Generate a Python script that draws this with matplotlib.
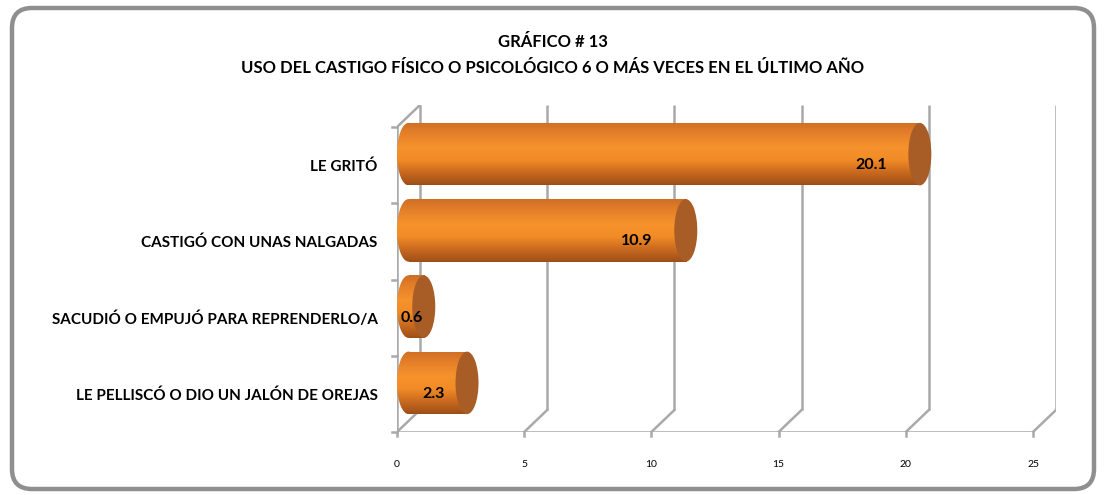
import numpy as np
import matplotlib.pyplot as plt
from matplotlib.patches import Ellipse, Rectangle, FancyBboxPatch
from matplotlib.colors import LinearSegmentedColormap

plt.rcParams['font.family'] = ['Lato', 'DejaVu Sans']

title_top = "GRÁFICO # 13"
title_sub = "USO DEL CASTIGO FÍSICO O PSICOLÓGICO 6 O MÁS VECES EN EL ÚLTIMO AÑO"
categories = ["LE GRITÓ", "CASTIGÓ CON UNAS NALGADAS",
              "SACUDIÓ O EMPUJÓ PARA REPRENDERLO/A", "LE PELLISCÓ O DIO UN JALÓN DE OREJAS"]
values = [20.1, 10.9, 0.6, 2.3]
xticks = [0, 5, 10, 15, 20, 25]

W, H = 1106, 495
fig = plt.figure(figsize=(W / 100, H / 100), dpi=100)

# background frame (rounded grey border)
bg = fig.add_axes([0, 0, 1, 1])
bg.set_xlim(0, W)
bg.set_ylim(0, H)
bg.axis('off')
bg.add_patch(FancyBboxPatch((12, 6), W - 24, H - 14, boxstyle="round,pad=0,rounding_size=20",
                            fc='white', ec='#8f8f8f', lw=3.2))

# 3d-ish geometry
xmax = 25
px_unit = 25.44            # pixels per unit on the front plane
dx = 23 / px_unit          # depth offset in x units
cat_px = 76.25
dy = 22 / cat_px           # depth offset in category units
n = len(categories)
left_px, bottom_px = 397, H - 432
ax_w = (xmax + dx) * px_unit
ax_h = (n + dy) * cat_px
ax = fig.add_axes([left_px / W, bottom_px / H, ax_w / W, ax_h / H])
ax.set_xlim(0, xmax + dx)
ax.set_ylim(-0.5, n - 0.5 + dy)
for s in ax.spines.values():
    s.set_visible(False)
ax.patch.set_alpha(0)

ypos = np.arange(n)[::-1]
gc = '#a9a9a9'
glw = 1.8
y0, y1 = -0.5, n - 0.5
# back wall verticals + floor diagonals
for v in xticks:
    ax.plot([v + dx, v + dx], [y0 + dy, y1 + dy], color=gc, lw=glw, zorder=1, solid_capstyle='butt')
    ax.plot([v, v + dx], [y0, y0 + dy], color=gc, lw=glw, zorder=1)
# left wall
ax.plot([0, 0], [y0, y1], color=gc, lw=glw, zorder=1)
ax.plot([0, dx], [y1, y1 + dy], color=gc, lw=glw, zorder=1)
# front baseline
ax.plot([0, xmax], [y0, y0], color=gc, lw=glw, zorder=1)
# left tick marks at category boundaries
for b in np.arange(n + 1) - 0.5:
    ax.plot([-0.18, 0], [b, b], color=gc, lw=glw, zorder=1, clip_on=False)
for v in xticks:
    ax.plot([v, v], [y0, y0 - 0.05], color=gc, lw=glw, zorder=1, clip_on=False)

ax.set_xticks(xticks)
ax.set_xticklabels([str(v) for v in xticks], fontsize=7.5)
ax.tick_params(axis='x', length=0, pad=20)
ax.set_yticks(ypos)
ax.set_yticklabels(categories, fontsize=11, fontweight='bold')
ax.tick_params(axis='y', length=0, pad=14)

cmap = LinearSegmentedColormap.from_list('cyl', ['#9c4f18', '#c9691f', '#f18b27', '#f6932c', '#e7812a', '#cf6f24'])
grad = np.linspace(0, 1, 256).reshape(-1, 1)
bh = 0.82
for y, v in zip(ypos, values):
    yc = y + dy / 2
    xs = dx / 2
    xe = v + dx / 2
    rect = Rectangle((xs, yc - bh / 2), xe - xs, bh, transform=ax.transData)
    im = ax.imshow(grad, cmap=cmap, aspect='auto', origin='lower',
                   extent=[0, xe + dx, yc - bh / 2, yc + bh / 2], zorder=3)
    im.set_clip_path(rect)
    el = Ellipse((xs, yc), dx, bh, transform=ax.transData)
    im2 = ax.imshow(grad, cmap=cmap, aspect='auto', origin='lower',
                    extent=[0, xe + dx, yc - bh / 2, yc + bh / 2], zorder=3)
    im2.set_clip_path(el)
    ax.add_patch(Ellipse((xe, yc), dx, bh, fc='#a85c26', ec='none', zorder=4))
    if v > 5:
        ax.text(xe - 1.3, y, f"{v}", ha='right', va='center', fontsize=11.5, fontweight='bold', zorder=5)
    else:
        ax.text(v / 2 + dx * 0.3, y, f"{v}", ha='center', va='center', fontsize=11.5, fontweight='bold', zorder=5)
ax.set_xlim(0, xmax + dx)
ax.set_ylim(-0.5, n - 0.5 + dy)

fig.text(0.5, 1 - 42 / H, title_top, ha='center', va='center', fontsize=12, fontweight='bold')
fig.text(0.5, 1 - 68 / H, title_sub, ha='center', va='center', fontsize=12, fontweight='bold')

fig.savefig('out.png', dpi=100)
